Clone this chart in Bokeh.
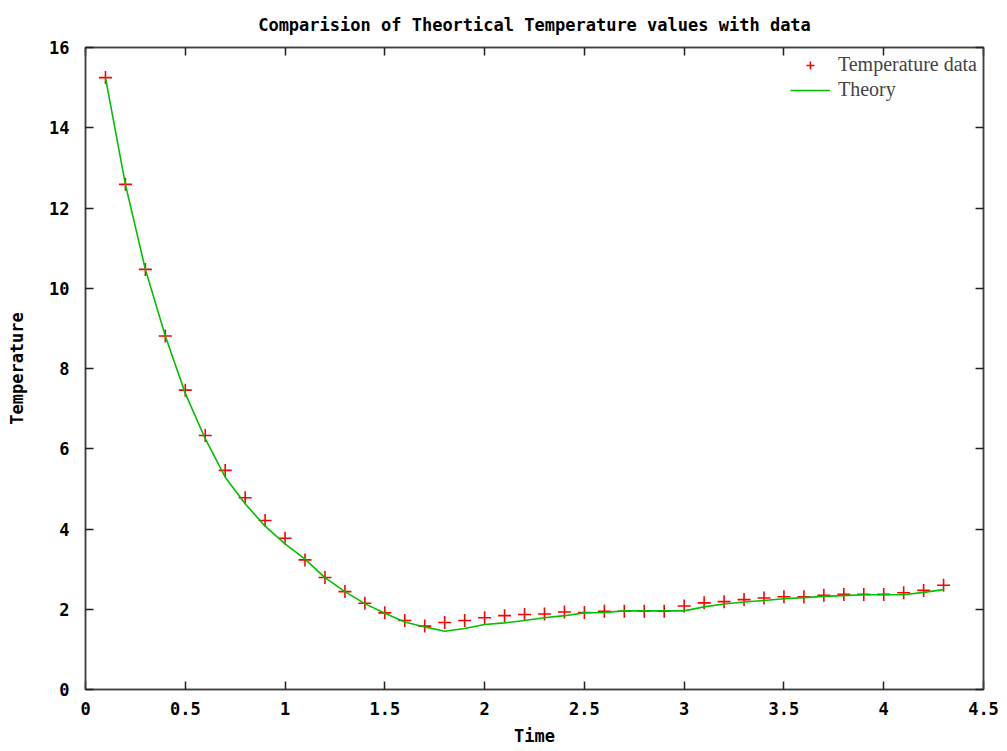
from bokeh.plotting import figure
from bokeh.models import Range1d, FixedTicker, LinearAxis, Legend, LegendItem, Title
from bokeh.embed import file_html
from bokeh.resources import INLINE

time = [0.1, 0.2, 0.3, 0.4, 0.5, 0.6, 0.7, 0.8, 0.9, 1.0,
        1.1, 1.2, 1.3, 1.4, 1.5, 1.6, 1.7, 1.8, 1.9, 2.0,
        2.1, 2.2, 2.3, 2.4, 2.5, 2.6, 2.7, 2.8, 2.9, 3.0,
        3.1, 3.2, 3.3, 3.4, 3.5, 3.6, 3.7, 3.8, 3.9, 4.0,
        4.1, 4.2, 4.3]
temp_data = [15.25, 12.59, 10.47, 8.81, 7.46, 6.33, 5.46, 4.78, 4.21, 3.77,
             3.23, 2.79, 2.44, 2.15, 1.91, 1.72, 1.58, 1.67, 1.72, 1.79,
             1.84, 1.87, 1.88, 1.93, 1.92, 1.95, 1.95, 1.95, 1.95, 2.08,
             2.16, 2.19, 2.24, 2.28, 2.31, 2.31, 2.35, 2.37, 2.37, 2.37,
             2.41, 2.47, 2.60]
theory = [15.25, 12.59, 10.47, 8.81, 7.38, 6.25, 5.29, 4.63, 4.07, 3.63,
          3.25, 2.79, 2.44, 2.14, 1.90, 1.68, 1.56, 1.45, 1.52, 1.62,
          1.66, 1.72, 1.79, 1.84, 1.91, 1.92, 1.96, 1.96, 1.96, 1.96,
          2.06, 2.13, 2.18, 2.22, 2.26, 2.29, 2.32, 2.34, 2.36, 2.36,
          2.36, 2.42, 2.49]
x_ticks = [0, 0.5, 1, 1.5, 2, 2.5, 3, 3.5, 4, 4.5]
x_tick_labels = ["0", "0.5", "1", "1.5", "2", "2.5", "3", "3.5", "4", "4.5"]
y_ticks = [0, 2, 4, 6, 8, 10, 12, 14, 16]
title_text = "Comparision of Theortical Temperature values with data"

MONO = "DejaVu Sans Mono"

p = figure(width=1000, height=751, output_backend="svg", toolbar_location=None,
           title=None,
           x_range=Range1d(0, 4.5), y_range=Range1d(0, 16),
           min_border_left=85, min_border_right=17, min_border_top=0, min_border_bottom=62,
           background_fill_color="white", border_fill_color="white")

p.grid.visible = False
p.outline_line_color = "#404040"
p.outline_line_width = 1.5

for ax in [p.xaxis[0], p.yaxis[0]]:
    ax.major_tick_in = 8
    ax.major_tick_out = 0
    ax.minor_tick_line_color = None
    ax.axis_line_color = "#404040"
    ax.axis_line_width = 1.5
    ax.major_tick_line_color = "#202020"
    ax.major_tick_line_width = 1.5
    ax.major_label_text_font = MONO
    ax.major_label_text_font_style = "bold"
    ax.major_label_text_font_size = "17px"
    ax.major_label_text_color = "black"
    ax.axis_label_text_font = MONO
    ax.axis_label_text_font_style = "bold"
    ax.axis_label_text_font_size = "17px"
    ax.axis_label_text_color = "black"

p.xaxis[0].ticker = FixedTicker(ticks=x_ticks)
p.xaxis[0].major_label_overrides = {t: l for t, l in zip(x_ticks, x_tick_labels)}
p.xaxis[0].axis_label = "Time"
p.xaxis[0].axis_label_standoff = 8
p.xaxis[0].major_label_standoff = 12
p.yaxis[0].ticker = FixedTicker(ticks=y_ticks)
p.yaxis[0].axis_label = "Temperature"
p.yaxis[0].major_label_standoff = 16
p.yaxis[0].axis_label_standoff = 19

top = LinearAxis(ticker=FixedTicker(ticks=x_ticks),
                 major_label_overrides={t: "" for t in x_ticks},
                 major_tick_in=8, major_tick_out=0, minor_tick_line_color=None,
                 major_tick_line_width=1.5, major_tick_line_color="#202020",
                 axis_line_color="#404040", axis_line_width=1.5,
                 major_label_standoff=0)
right = LinearAxis(ticker=FixedTicker(ticks=y_ticks),
                   major_label_overrides={t: "" for t in y_ticks},
                   major_tick_in=8, major_tick_out=0, minor_tick_line_color=None,
                   major_tick_line_width=1.5, major_tick_line_color="#202020",
                   axis_line_color="#404040", axis_line_width=1.5,
                   major_label_standoff=0)
p.add_layout(top, "above")
p.add_layout(right, "right")

title = Title(text=title_text, align="center", text_font=MONO,
              text_font_style="bold", text_font_size="17px",
              text_color="black", standoff=25)
p.add_layout(title, "above")

r_pts = p.scatter(time, temp_data, marker="cross", size=13, line_color="red",
                  line_width=1.6)
r_line = p.line(time, theory, line_color="#00c000", line_width=1.6)

legend = Legend(items=[LegendItem(label="Temperature data", renderers=[r_pts]),
                       LegendItem(label="Theory", renderers=[r_line])],
                location="top_right", border_line_color=None,
                background_fill_alpha=0, label_text_font="Liberation Serif",
                label_text_font_size="20px", glyph_width=40, spacing=2,
                padding=2, margin=6, label_standoff=8, label_height=22)
p.add_layout(legend)

open("out.html", "w").write(file_html(p, INLINE))
